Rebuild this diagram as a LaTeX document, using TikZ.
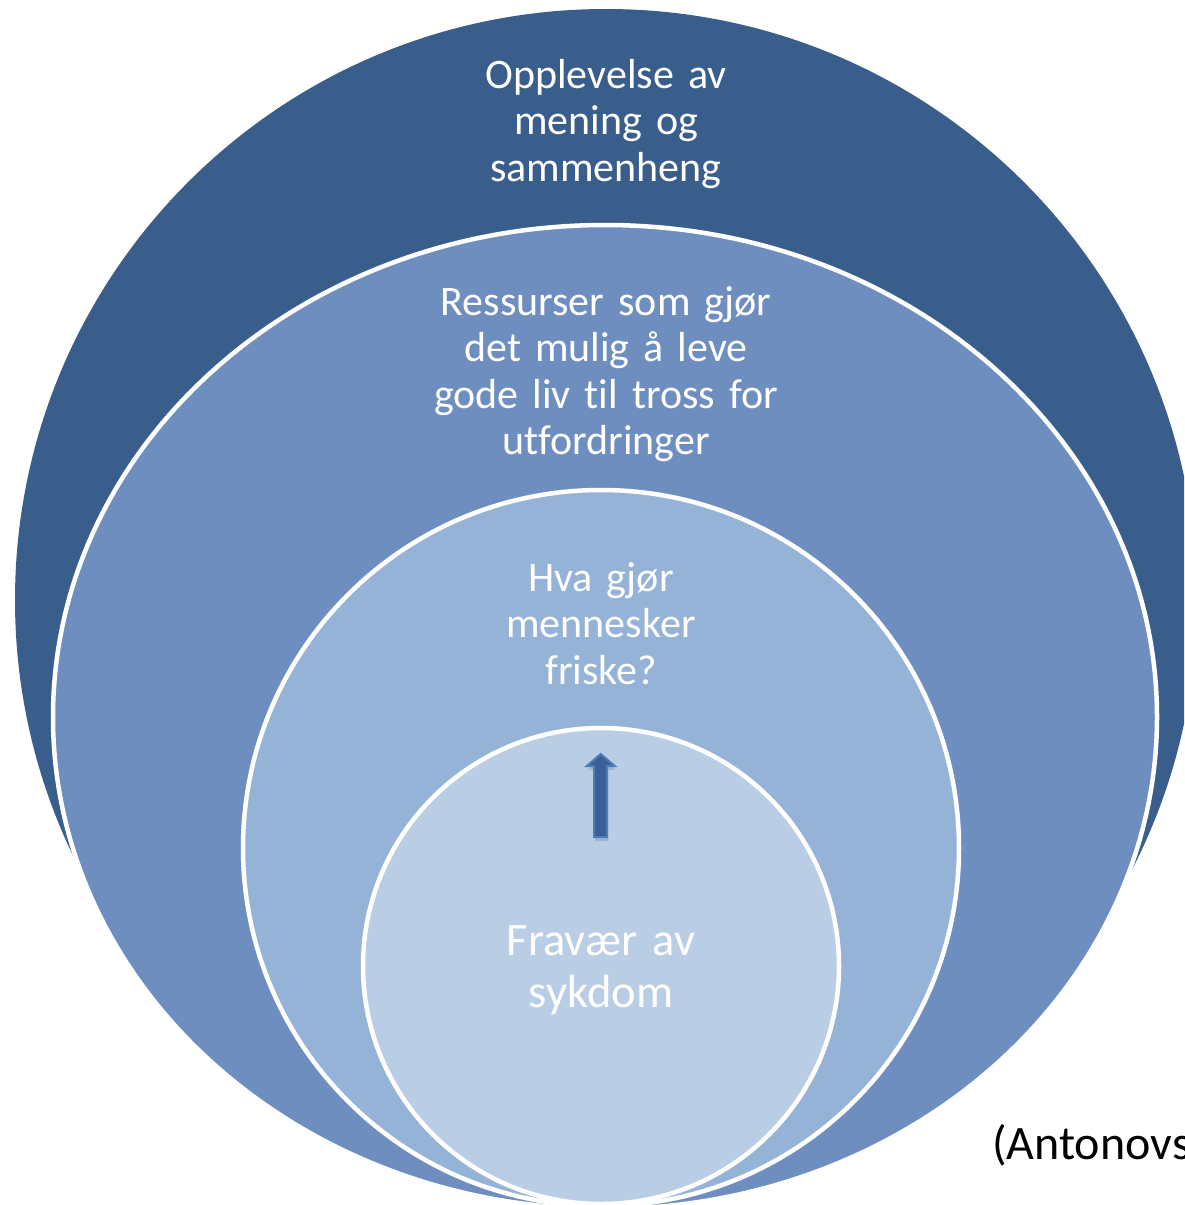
\documentclass[tikz,border=0pt]{standalone}
\usepackage{fontspec}
\setmainfont{Carlito}[Ligatures={NoCommon}]
\definecolor{ringdark}{HTML}{3A5E8B}
\definecolor{ringmid}{HTML}{6F8EC0}
\definecolor{ringlight}{HTML}{95B3D7}
\definecolor{ringcore}{HTML}{B9CDE5}
\definecolor{arrowfill}{HTML}{3A6095}
\definecolor{arrowline}{HTML}{4A7EBB}
\begin{document}
\begin{tikzpicture}[x=1pt,y=-1pt,
  ring/.style={draw=white, line width=4.5pt},
  lbl/.style={text=white, align=center, text width=420pt, anchor=base, inner sep=0pt,
    font=\fontsize{42}{46.6}\selectfont},
]
\useasboundingbox (0,0) rectangle (1184,1205);
\clip (0,0) rectangle (1184,1205);
% rings
\fill[ringdark] (606,600) circle [radius=591pt];
\path[ring, fill=ringmid] (605,717) ellipse [x radius=552pt, y radius=492pt];
\path[ring, fill=ringlight] (601,848) circle [radius=358pt];
\path[ring, fill=ringcore] (601,966) circle [radius=238pt];
% block arrow
\fill[black, opacity=0.12] (595,841) -- (595,770) -- (587.5,770) -- (601.7,757) -- (615.5,770) -- (608,770) -- (608,841) -- cycle;
\draw[arrowline, line width=2pt, fill=arrowfill, line join=miter]
  (594,837) -- (594,766) -- (586.7,766) -- (600.7,754) -- (614.7,766) -- (607,766) -- (607,837) -- cycle;
% labels
\node[lbl] (outer) at (606,88) {Opplevelse av\\mening og\\sammenheng};
\node[lbl] (middle) at (606,315) {Ressurser som gjør\\det mulig å leve\\gode liv til tross for\\utfordringer};
\node[lbl] (inner) at (601,591) {Hva gjør\\mennesker\\friske?};
\node[lbl, font=\fontsize{46.5}{52}\selectfont] (core) at (601,955) {Fravær av\\sykdom};
\node[anchor=base west, inner sep=0pt, font=\fontsize{48}{52}\selectfont] (source) at (992,1159) {(Antonovs};
\end{tikzpicture}
\end{document}
